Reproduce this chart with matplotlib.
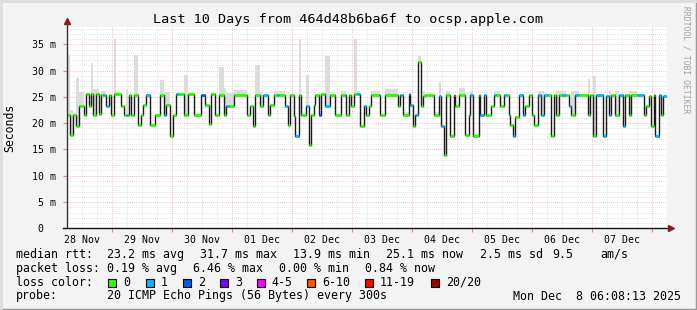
import numpy as np
import matplotlib
matplotlib.use('Agg')
import matplotlib.pyplot as plt
import matplotlib.dates as mdates
from matplotlib.lines import Line2D
from matplotlib.patches import Rectangle
from datetime import datetime, timedelta

# median rtt (ms) for each run of 24-minute consolidated steps
median_ms = [21.5, 17.8, 21.6, 19.5, 23.3, 21.5, 25.5, 23.3, 25.5, 21.6,
             25.5, 21.7, 25.4, 25.4, 25.4, 23.3, 25.4, 21.6, 25.5, 25.5,
             23.3, 21.5, 21.5, 21.5, 25.4, 21.5, 25.4, 19.6, 21.5, 23.5,
             25.4, 19.7, 21.6, 25.4, 21.5, 23.5, 17.6, 21.6, 25.5, 25.5,
             21.6, 25.5, 21.6, 25.4, 23.5, 19.8, 25.5, 21.6, 25.4, 21.6,
             23.3, 23.3, 25.3, 21.5, 23.3, 19.5, 25.4, 23.3, 25.4, 21.5,
             23.5, 25.4, 25.4, 25.4, 23.3, 19.7, 25.4, 21.4, 17.6, 25.4,
             21.5, 23.3, 15.9, 21.6, 23.5, 25.4, 21.6, 25.5, 23.3, 25.4,
             21.5, 25.4, 25.4, 21.5, 25.4, 23.3, 25.5, 25.5, 19.5, 23.3,
             21.6, 23.3, 25.4, 25.4, 21.6, 25.4, 23.3, 25.4, 21.6, 25.5,
             23.5, 19.5, 21.5, 31.7, 23.3, 25.2, 25.4, 21.5, 25.2, 19.5,
             14.0, 25.4, 17.6, 25.4, 23.3, 25.4, 17.8, 21.5, 25.4, 17.6,
             25.4, 21.5, 25.4, 21.5, 23.3, 25.3, 25.3, 23.3, 25.4, 25.4,
             21.6, 19.7, 17.5, 21.2, 25.3, 21.5, 23.3, 25.4, 21.5, 19.7,
             25.4, 21.5, 25.4, 25.4, 17.6, 25.4, 21.5, 25.4, 25.4, 25.4,
             23.3, 21.6, 25.4, 25.4, 21.5, 25.4, 17.6, 25.4, 17.6, 25.2,
             21.5, 25.4, 21.5, 25.4, 19.5, 25.4, 21.5, 25.4, 25.4, 21.5,
             23.3, 25.2, 19.5, 25.4, 17.6, 25.4, 21.5, 25.2]
steps = [3, 3, 3, 3, 5, 2, 3, 2, 2, 3,
         3, 2, 2, 2, 1, 3, 2, 3, 2, 5,
         3, 2, 2, 1, 2, 3, 4, 3, 2, 3,
         4, 5, 5, 4, 2, 4, 3, 3, 3, 5,
         4, 6, 7, 4, 4, 2, 4, 4, 5, 2,
         3, 5, 13, 3, 3, 2, 5, 3, 5, 2,
         4, 3, 2, 6, 3, 2, 4, 1, 4, 2,
         5, 3, 2, 3, 1, 4, 2, 4, 5, 5,
         6, 4, 1, 3, 2, 3, 3, 3, 4, 2,
         3, 2, 8, 1, 5, 13, 2, 3, 6, 1,
         3, 2, 3, 3, 2, 2, 9, 5, 2, 3,
         2, 4, 4, 1, 4, 6, 4, 1, 3, 6,
         1, 4, 2, 5, 3, 2, 4, 4, 2, 3,
         1, 3, 2, 4, 4, 2, 4, 3, 2, 4,
         3, 3, 4, 3, 3, 2, 3, 3, 4, 3,
         2, 4, 4, 9, 2, 3, 3, 7, 3, 3,
         2, 4, 4, 4, 2, 4, 2, 6, 7, 2,
         3, 2, 3, 1, 4, 2, 2, 4]
# lost pings (out of 20) in each run
lost = [0, 0, 0, 0, 0, 0, 0, 0, 0, 0,
        0, 0, 0, 1, 0, 1, 0, 0, 0, 0,
        0, 0, 1, 0, 0, 0, 0, 0, 0, 0,
        1, 0, 0, 0, 1, 0, 0, 0, 1, 0,
        0, 0, 0, 2, 0, 0, 0, 0, 0, 0,
        1, 0, 0, 0, 0, 0, 0, 0, 1, 0,
        0, 0, 1, 0, 1, 0, 0, 0, 1, 0,
        0, 1, 0, 0, 0, 0, 2, 0, 1, 0,
        0, 0, 1, 0, 0, 0, 0, 1, 0, 1,
        0, 0, 0, 1, 0, 0, 0, 1, 0, 1,
        1, 0, 1, 0, 0, 0, 0, 0, 1, 1,
        0, 0, 0, 0, 0, 0, 0, 1, 1, 0,
        0, 1, 1, 0, 0, 1, 0, 0, 1, 0,
        0, 0, 1, 0, 1, 1, 0, 0, 0, 0,
        1, 1, 1, 0, 0, 0, 0, 0, 1, 0,
        1, 0, 1, 0, 0, 0, 0, 1, 1, 1,
        1, 0, 0, 1, 1, 0, 0, 0, 1, 0,
        0, 0, 0, 0, 1, 1, 0, 1]
# top of the ping smoke (ms), 0 where none is visible
smoke_top_ms = [33.0, 22.5, 0, 28.6, 25.9, 0, 0, 0, 31.4, 26.5,
                26.5, 0, 26.2, 26.2, 26.2, 0, 0, 0, 36.0, 26.0,
                0, 0, 26.5, 0, 0, 0, 33.0, 0, 0, 0,
                0, 0, 0, 28.2, 26.0, 26.0, 0, 0, 0, 0,
                29.2, 0, 0, 0, 0, 0, 0, 0, 30.7, 26.6,
                25.8, 25.8, 26.4, 0, 0, 0, 31.1, 26.0, 0, 0,
                0, 26.2, 26.2, 26.2, 0, 0, 0, 0, 0, 36.0,
                0, 29.2, 0, 0, 0, 0, 0, 0, 32.7, 0,
                0, 26.2, 26.2, 0, 0, 0, 36.0, 26.2, 0, 0,
                0, 0, 26.2, 26.2, 0, 26.5, 0, 0, 22.2, 0,
                0, 0, 0, 32.7, 0, 26.2, 0, 22.2, 27.9, 0,
                0, 26.2, 0, 0, 0, 26.6, 0, 0, 26.2, 0,
                0, 0, 0, 0, 0, 26.2, 26.2, 0, 0, 0,
                0, 0, 0, 0, 0, 0, 0, 0, 0, 0,
                26.2, 26.2, 0, 0, 0, 0, 26.2, 26.2, 26.2, 0,
                0, 26.2, 26.2, 0, 28.4, 0, 29.0, 0, 0, 0,
                26.2, 0, 26.2, 0, 0, 0, 26.2, 26.2, 0, 0,
                0, 0, 0, 0, 0, 0, 0, 0]

loss_labels = ['0', '1', '2', '3', '4-5', '6-10', '11-19', '20/20']
loss_colors = ['#26ff00', '#00b8ff', '#0059ff', '#7e00ff', '#ff00ff',
               '#ff5500', '#ff0000', '#a00000']

start = datetime(2025, 11, 28, 6, 8, 13)
end = start + timedelta(days=10)
step = timedelta(minutes=24)

mono = 'DejaVu Sans Mono'
W, H = 697, 310
fig = plt.figure(figsize=(W / 100, H / 100), dpi=100, facecolor='#f3f3f3')
x0, x1, y0, y1 = 67, 667, 228.3, 27
ax = fig.add_axes([x0 / W, 1 - y0 / H, (x1 - x0) / W, (y0 - y1) / H])
ax.set_facecolor('white')

edges = mdates.date2num([start + step * int(k) for k in np.concatenate([[0], np.cumsum(steps)])])
med = np.array(median_ms)
top = np.array(smoke_top_ms)

# grid
minor_c, major_c = '#dadada', '#f5a8a8'
dots = (0, (1, 1.5))
for v in np.arange(1, 39):
    if v % 5:
        ax.axhline(v, color=minor_c, lw=0.6, ls=dots, zorder=0)
for t in mdates.HourLocator(byhour=[6, 12, 18]).tick_values(start, end):
    ax.axvline(t, color=minor_c, lw=0.6, ls=dots, zorder=0)
for v in range(5, 39, 5):
    ax.axhline(v, color=major_c, lw=0.6, ls=dots, zorder=0.5)
for t in mdates.DayLocator().tick_values(start, end):
    ax.axvline(t, color=major_c, lw=0.6, ls=dots, zorder=0.5)

# smoke
has = top > 0
ax.bar(edges[:-1][has], (top - med)[has], bottom=med[has],
       width=np.diff(edges)[has], align='edge', color='#dcdcdc', lw=0, zorder=1)

# median line + loss color
ax.stairs(med, edges, baseline=None, color='#1a1a1a', lw=1.0, zorder=2)
ax.hlines(med, edges[:-1], edges[1:], colors=[loss_colors[l] for l in lost],
          lw=2.0, zorder=3, capstyle='butt')

ax.set_xlim(mdates.date2num(start), mdates.date2num(end))
ax.set_ylim(0, 38.3)
for s in ax.spines.values():
    s.set_visible(False)

ax.xaxis.set_major_locator(mdates.DayLocator())
ax.xaxis.set_major_formatter(plt.NullFormatter())
ax.xaxis.set_minor_locator(mdates.HourLocator(byhour=12))
ax.xaxis.set_minor_formatter(mdates.DateFormatter('%d %b'))
ax.tick_params(axis='x', which='major', length=3, color='#f08080', width=0.8)
ax.tick_params(axis='x', which='minor', length=0, pad=5, labelsize=7.1)
ax.set_yticks(range(0, 36, 5))
ax.set_yticklabels(['0  '] + ['%d m' % v for v in range(5, 36, 5)])
ax.tick_params(axis='y', length=3, color='#f08080', width=0.8, pad=5, labelsize=7.1)
for lab in ax.get_xticklabels(minor=True) + ax.get_yticklabels():
    lab.set_family(mono)

# axes with arrows
ax.plot([0, 0], [0, 1.03], transform=ax.transAxes, color='#333333', lw=1, clip_on=False, zorder=4)
ax.plot([-0.007, 1.007], [0, 0], transform=ax.transAxes, color='#111111', lw=1, clip_on=False, zorder=4)
ax.plot([0], [1.03], marker='^', ms=5, color='#8b1a1a', transform=ax.transAxes, clip_on=False, zorder=5)
ax.plot([1.007], [0], marker='>', ms=5, color='#8b1a1a', transform=ax.transAxes, clip_on=False, zorder=5)

fig.text(348 / W, 1 - 19 / H, 'Last 10 Days from 464d48b6ba6f to ocsp.apple.com',
         family=mono, size=9.7, ha='center', va='center')
fig.text(10 / W, 1 - 128 / H, 'Seconds', family=mono, size=8.3, rotation=90,
         ha='center', va='center')
fig.text(686 / W, 1 - 6 / H, 'RRDTOOL / TOBI OETIKER', family=mono, size=5.8,
         rotation=270, ha='center', va='top', color='#a0a0a0')

# legend lines
def put(x, y, s):
    fig.text(x / W, 1 - y / H, s, family=mono, size=8.35, ha='left', va='center')

put(16, 254.3, 'median rtt:')
for x, s in zip([107.3, 200, 293.3, 386, 480, 552.7, 600],
                ['23.2 ms avg', '31.7 ms max', '13.9 ms min', '25.1 ms now',
                 '2.5 ms sd', '9.5', 'am/s']):
    put(x, 254.3, s)
put(16, 268.3, 'packet loss:')
for x, s in zip([107.3, 193.3, 279.3, 365],
                ['0.19 % avg', '6.46 % max', '0.00 % min', '0.84 % now']):
    put(x, 268.3, s)
put(16, 282.3, 'loss color:')
box_x = [108.3, 145.7, 182.7, 220, 256.7, 307.3, 365, 431]
for bx, c, s in zip(box_x, loss_colors, loss_labels):
    fig.add_artist(Rectangle((bx / W, 1 - 286.7 / H), 8 / W, 8 / H, transform=fig.transFigure,
                             facecolor=c, edgecolor='black', lw=0.8))
    put(bx + 15, 282.3, s)
put(16, 296, 'probe:')
put(107.3, 296, '20 ICMP Echo Pings (56 Bytes) every 300s')
put(513.3, 296, 'Mon Dec  8 06:08:13 2025')

# frame
fig.add_artist(Line2D([0, 1], [0.5 / H, 0.5 / H], transform=fig.transFigure, color='#9a9a9a', lw=2.5))
fig.add_artist(Line2D([1 - 0.5 / W, 1 - 0.5 / W], [0, 1], transform=fig.transFigure, color='#9a9a9a', lw=2.5))
fig.add_artist(Line2D([0, 1], [1 - 0.5 / H, 1 - 0.5 / H], transform=fig.transFigure, color='#dcdcdc', lw=2))
fig.add_artist(Line2D([0.5 / W, 0.5 / W], [0, 1], transform=fig.transFigure, color='#dcdcdc', lw=2))

fig.savefig('out.png', dpi=100, facecolor=fig.get_facecolor())
